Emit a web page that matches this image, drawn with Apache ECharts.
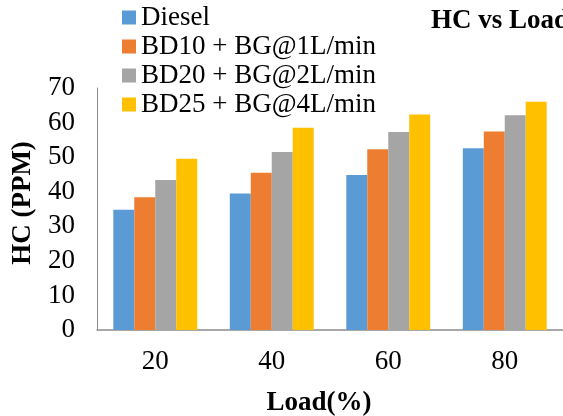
<!DOCTYPE html>
<html>
<head>
<meta charset="utf-8">
<script src="https://cdn.jsdelivr.net/npm/echarts@6/dist/echarts.min.js"></script>
<style>html,body{margin:0;padding:0;background:#fff}#c{width:563px;height:416px}</style>
</head>
<body>
<div id="c"></div>
<script>
const categories = ['20', '40', '60', '80'];
const seriesNames = ['Diesel', 'BD10 + BG@1L/min', 'BD20 + BG@2L/min', 'BD25 + BG@4L/min'];
const diesel = [34.8, 39.5, 44.8, 52.6];
const bd10 = [38.4, 45.5, 52.3, 57.4];
const bd20 = [43.4, 51.5, 57.3, 62.1];
const bd25 = [49.5, 58.5, 62.3, 66.0];
const yTicks = [0, 10, 20, 30, 40, 50, 60, 70];
const colors = ['#5B9BD5', '#ED7D31', '#A5A5A5', '#FFC000'];

const FONT = '"Liberation Serif", "Times New Roman", serif';
const chart = echarts.init(document.getElementById('c'), null, {renderer: 'canvas'});
const values = [diesel, bd10, bd20, bd25];
chart.setOption({
  animation: false,
  backgroundColor: '#fff',
  color: colors,
  textStyle: {fontFamily: FONT, color: '#000'},
  title: {
    text: 'HC vs Load', left: 431, top: 8, padding: 0,
    textStyle: {fontFamily: FONT, fontSize: 27, fontWeight: 'bold', color: '#000'}
  },
  legend: {
    orient: 'vertical', left: 122, top: 4, padding: 0, itemWidth: 14, itemHeight: 14, itemGap: 2,
    icon: 'rect', data: seriesNames,
    textStyle: {fontFamily: FONT, fontSize: 27, color: '#000', lineHeight: 27}
  },
  grid: {left: 97, top: 88, width: 476, height: 242, containLabel: false},
  xAxis: {
    type: 'category', data: categories,
    axisLine: {lineStyle: {color: '#8c8c8c', width: 1.5}},
    axisTick: {show: false},
    axisLabel: {fontFamily: FONT, fontSize: 27, color: '#000', margin: 18}
  },
  yAxis: {
    type: 'value', min: yTicks[0], max: yTicks[yTicks.length - 1], interval: 10,
    splitLine: {show: false},
    axisLine: {show: true, lineStyle: {color: '#8c8c8c', width: 1}},
    axisTick: {show: false},
    axisLabel: {fontFamily: FONT, fontSize: 27, color: '#000', margin: 22}
  },
  graphic: [
    {type: 'text', x: 319, y: 403, style: {text: 'Load(%)', font: 'bold 27px ' + FONT, fill: '#000', align: 'center', verticalAlign: 'middle'}},
    {type: 'text', x: 23, y: 203, rotation: Math.PI / 2, style: {text: 'HC (PPM)', font: 'bold 27px ' + FONT, fill: '#000', align: 'center', verticalAlign: 'middle'}}
  ],
  series: seriesNames.map((n, i) => ({
    name: n, type: 'bar', data: values[i],
    barGap: 0, barCategoryGap: '28%',
    itemStyle: {color: colors[i]}
  }))
});
</script>
</body>
</html>
